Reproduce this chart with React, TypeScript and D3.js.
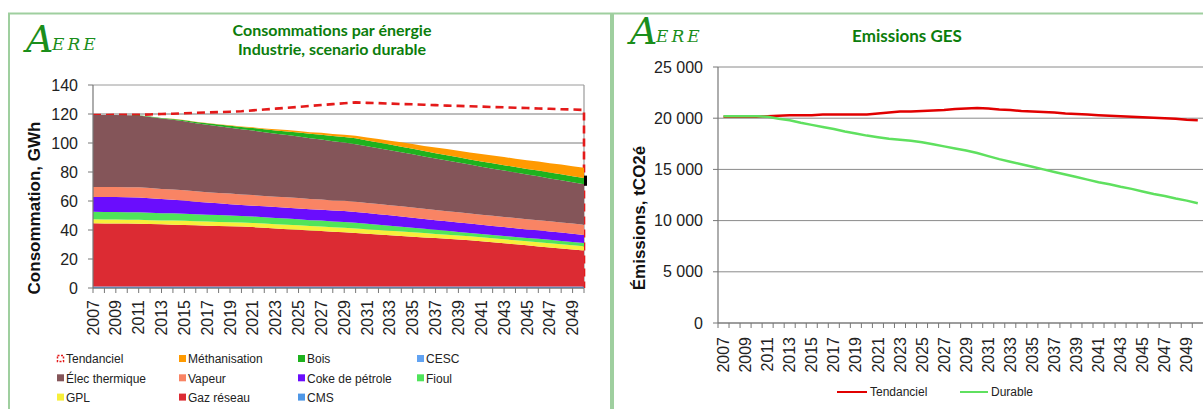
import React from "react";
import * as d3 from "d3";

const years = [2007, 2008, 2009, 2010, 2011, 2012, 2013, 2014, 2015, 2016, 2017, 2018, 2019, 2020, 2021, 2022, 2023, 2024, 2025, 2026, 2027, 2028, 2029, 2030, 2031, 2032, 2033, 2034, 2035, 2036, 2037, 2038, 2039, 2040, 2041, 2042, 2043, 2044, 2045, 2046, 2047, 2048, 2049, 2050];

const cms = [1.0, 1.0, 1.0, 1.0, 1.0, 1.0, 1.0, 1.0, 1.0, 1.0, 1.0, 1.0, 1.0, 1.0, 1.0, 1.0, 1.0, 1.0, 1.0, 1.0, 1.0, 1.0, 1.0, 1.0, 1.0, 1.0, 1.0, 1.0, 1.0, 1.0, 1.0, 1.0, 1.0, 1.0, 1.0, 1.0, 1.0, 1.0, 1.0, 1.0, 1.0, 1.0, 1.0, 1.0];
const gazReseau = [43.6, 43.5, 43.5, 43.4, 43.3, 43.1, 42.9, 42.7, 42.5, 42.2, 42.0, 41.8, 41.6, 41.4, 41.0, 40.5, 40.1, 39.6, 39.2, 38.7, 38.3, 37.8, 37.4, 36.9, 36.4, 35.9, 35.4, 34.9, 34.4, 33.9, 33.4, 32.9, 32.4, 31.9, 31.2, 30.5, 29.8, 29.1, 28.4, 27.7, 27.0, 26.3, 25.6, 24.9];
const gpl = [2.8, 2.8, 2.8, 2.7, 2.7, 2.7, 2.7, 2.8, 2.8, 2.8, 2.8, 2.8, 2.8, 2.8, 2.9, 2.9, 2.9, 3.0, 3.0, 3.0, 3.1, 3.1, 3.2, 3.2, 3.2, 3.1, 3.1, 3.0, 3.0, 3.0, 2.9, 2.9, 2.8, 2.8, 2.8, 2.8, 2.8, 2.8, 2.8, 2.9, 2.9, 2.9, 2.9, 2.9];
const fioul = [5.2, 5.2, 5.2, 5.2, 5.2, 5.1, 5.0, 5.0, 4.9, 4.8, 4.7, 4.7, 4.6, 4.5, 4.4, 4.4, 4.3, 4.3, 4.2, 4.1, 4.1, 4.0, 4.0, 3.9, 3.7, 3.6, 3.4, 3.3, 3.1, 2.9, 2.8, 2.6, 2.5, 2.3, 2.3, 2.3, 2.3, 2.3, 2.3, 2.3, 2.3, 2.3, 2.3, 2.3];
const coke = [10.1, 10.2, 10.2, 10.3, 10.3, 10.0, 9.7, 9.4, 9.1, 8.7, 8.4, 8.1, 7.8, 7.5, 7.5, 7.5, 7.5, 7.5, 7.5, 7.5, 7.5, 7.5, 7.5, 7.5, 7.4, 7.3, 7.2, 7.1, 7.0, 6.8, 6.7, 6.6, 6.5, 6.4, 6.3, 6.2, 6.1, 6.0, 5.9, 5.9, 5.8, 5.7, 5.6, 5.5];
const vapeur = [6.9, 6.9, 6.9, 6.9, 6.9, 7.0, 7.0, 7.1, 7.1, 7.2, 7.2, 7.2, 7.3, 7.3, 7.3, 7.2, 7.2, 7.2, 7.1, 7.1, 7.1, 7.0, 7.0, 7.0, 7.0, 7.0, 7.0, 7.0, 7.0, 7.0, 7.0, 7.0, 7.0, 7.0, 7.0, 7.0, 7.0, 7.0, 7.0, 7.0, 7.0, 7.0, 7.0, 7.0];
const elecThermique = [49.7, 49.7, 49.7, 49.6, 49.6, 49.1, 48.6, 48.1, 47.6, 47.0, 46.5, 46.0, 45.5, 45.0, 44.5, 43.9, 43.4, 42.9, 42.4, 41.8, 41.3, 40.8, 40.2, 39.7, 39.1, 38.5, 37.9, 37.3, 36.7, 36.1, 35.5, 34.9, 34.3, 33.7, 33.1, 32.5, 32.0, 31.4, 30.8, 30.2, 29.6, 29.1, 28.5, 27.9];
const cesc = [0, 0, 0, 0, 0, 0, 0, 0, 0, 0, 0, 0, 0, 0, 0, 0, 0, 0, 0, 0, 0, 0, 0, 0, 0, 0, 0, 0, 0, 0, 0, 0, 0, 0, 0, 0, 0, 0, 0, 0, 0, 0, 0, 0];
const bois = [0, 0, 0, 0, 0.1, 0.2, 0.4, 0.5, 0.7, 0.8, 1.0, 1.1, 1.3, 1.5, 1.8, 2.0, 2.3, 2.5, 2.8, 3.1, 3.3, 3.6, 3.8, 4.1, 4.0, 4.0, 3.9, 3.9, 3.8, 3.7, 3.7, 3.6, 3.6, 3.5, 3.6, 3.7, 3.7, 3.8, 3.9, 4.0, 4.1, 4.1, 4.2, 4.3];
const methanisation = [0, 0, 0, 0, 0, 0, 0, 0.1, 0.1, 0.1, 0.2, 0.2, 0.3, 0.3, 0.4, 0.6, 0.7, 0.9, 1.0, 1.1, 1.3, 1.4, 1.6, 1.7, 2.0, 2.4, 2.7, 3.0, 3.3, 3.6, 3.9, 4.3, 4.6, 4.9, 5.1, 5.3, 5.6, 5.8, 6.0, 6.2, 6.4, 6.7, 6.9, 7.1];
const tendancielConso = [119.3, 119.3, 119.4, 119.4, 119.4, 119.7, 120.0, 120.2, 120.5, 120.8, 121.1, 121.3, 121.6, 121.9, 122.5, 123.1, 123.7, 124.3, 124.9, 125.6, 126.2, 126.8, 127.4, 128.0, 127.7, 127.5, 127.2, 126.9, 126.7, 126.4, 126.1, 125.8, 125.6, 125.3, 125.1, 124.8, 124.6, 124.3, 124.1, 123.8, 123.6, 123.3, 123.1, 122.8];

const emisTendanciel = [20150, 20150, 20150, 20150, 20200, 20250, 20300, 20300, 20300, 20350, 20350, 20350, 20350, 20350, 20450, 20550, 20650, 20650, 20700, 20750, 20800, 20900, 20950, 21000, 20950, 20850, 20800, 20700, 20650, 20600, 20550, 20450, 20400, 20350, 20300, 20250, 20200, 20150, 20100, 20050, 20000, 19950, 19850, 19800];
const emisDurable = [20200, 20200, 20200, 20200, 20150, 19950, 19800, 19550, 19350, 19150, 18950, 18700, 18500, 18300, 18150, 18000, 17900, 17800, 17650, 17450, 17250, 17050, 16850, 16600, 16300, 16000, 15750, 15500, 15250, 15000, 14750, 14500, 14250, 14000, 13750, 13550, 13300, 13100, 12850, 12600, 12400, 12150, 11950, 11700];

const consoTicks = [0, 20, 40, 60, 80, 100, 120, 140];
const emisTicks = [0, 5000, 10000, 15000, 20000, 25000];

const stackSeries = [
  { name: "CMS", values: cms, color: "#4f97e6" },
  { name: "Gaz réseau", values: gazReseau, color: "#dc2b33" },
  { name: "GPL", values: gpl, color: "#f7ef3a" },
  { name: "Fioul", values: fioul, color: "#4fe45a" },
  { name: "Coke de pétrole", values: coke, color: "#6a0dfd" },
  { name: "Vapeur", values: vapeur, color: "#f98464" },
  { name: "Élec thermique", values: elecThermique, color: "#845559" },
  { name: "CESC", values: cesc, color: "#62a3f2" },
  { name: "Bois", values: bois, color: "#1eb21e" },
  { name: "Méthanisation", values: methanisation, color: "#ff9a00" },
];

const legendLeft = [
  ["Tendanciel", "dash"], ["Méthanisation", "#ff9a00"], ["Bois", "#1eb21e"], ["CESC", "#62a3f2"],
  ["Élec thermique", "#845559"], ["Vapeur", "#f98464"], ["Coke de pétrole", "#6a0dfd"], ["Fioul", "#4fe45a"],
  ["GPL", "#f7ef3a"], ["Gaz réseau", "#dc2b33"], ["CMS", "#4f97e6"],
];

const AX = "Liberation Sans, Arial, sans-serif";
const GREEN = "#0c7d0c";

function Logo({ x, y }: { x: number; y: number }) {
  return (
    <g transform={`translate(${x},${y})`} fill="#1b8e1b" fontFamily="DejaVu Serif, serif" fontStyle="italic">
      <text x={0} y={30} fontSize={38}>A</text>
      <text x={26} y={28} fontSize={17} letterSpacing={3}>ERE</text>
    </g>
  );
}

export default function App() {
  // Left chart
  const lx = d3.scalePoint<number>().domain(years).range([93, 584]);
  const ly = d3.scaleLinear().domain([0, 140]).range([288, 85]);
  const table = years.map((yr, i) => {
    const o: any = { year: yr };
    stackSeries.forEach((s) => (o[s.name] = s.values[i]));
    return o;
  });
  const stacked = d3.stack<any>().keys(stackSeries.map((s) => s.name))(table);
  const area = d3
    .area<any>()
    .x((d) => lx(d.data.year)!)
    .y0((d) => ly(d[0]))
    .y1((d) => ly(d[1]));
  const tendLine = d3
    .line<number>()
    .x((_, i) => lx(years[i])!)
    .y((d) => ly(d));
  const tendPath =
    tendLine(tendancielConso)! + `L${lx(years[years.length - 1])},${ly(0)}`;

  // Right chart
  const rx = d3.scaleBand<number>().domain(years).range([718, 1203.3]);
  const ry = d3.scaleLinear().domain([0, 25000]).range([323, 67]);
  const fmt = d3.formatLocale({ decimal: ",", thousands: " ", grouping: [3], currency: ["", "€"] }).format(",d");
  const rline = d3
    .line<number>()
    .x((_, i) => rx(years[i])! + rx.bandwidth() / 2)
    .y((d) => ry(d));

  return (
    <svg width={1203} height={409} style={{ position: "absolute", left: 0, top: 0, background: "#fff" }} fontFamily={AX}>
      {/* panel borders */}
      <rect x={9} y={13.5} width={602} height={420} fill="none" stroke="#9fcf9f" strokeWidth={2} />
      <rect x={613} y={13.5} width={620} height={420} fill="none" stroke="#9fcf9f" strokeWidth={2} />

      {/* ===== LEFT CHART ===== */}
      <Logo x={26} y={22} />
      <g fontFamily="Lato, Open Sans, sans-serif" fontWeight="bold" fill={GREEN} fontSize={16} textAnchor="middle">
        <text x={332} y={36}>Consommations par énergie</text>
        <text x={332} y={55}>Industrie, scenario durable</text>
      </g>

      {consoTicks.map((t) => (
        <line key={t} x1={93} x2={584} y1={ly(t)} y2={ly(t)} stroke={t === 140 ? "#9a9a9a" : "#7a7a7a"} strokeWidth={1} />
      ))}
      <line x1={584} x2={584} y1={ly(140)} y2={ly(0)} stroke="#9a9a9a" strokeWidth={1.2} />

      <path d={tendPath} fill="none" stroke="#e41a1a" strokeWidth={2.6} strokeDasharray="8,5" />

      {stacked.map((s, i) => (
        <path key={s.key} d={area(s as any)!} fill={stackSeries[i].color} />
      ))}
      <rect x={584} y={ly(77.5)} width={3} height={ly(70.5) - ly(77.5)} fill="#000" />

      <line x1={93} x2={93} y1={ly(140)} y2={ly(0)} stroke="#777" strokeWidth={1.2} />
      <line x1={93} x2={584} y1={ly(0)} y2={ly(0)} stroke="#777" strokeWidth={1.2} />
      {consoTicks.map((t) => (
        <g key={t}>
          <line x1={88} x2={93} y1={ly(t)} y2={ly(t)} stroke="#777" />
          <text x={78} y={ly(t)} dy="0.35em" textAnchor="end" fontSize={16} fill="#222">{t}</text>
        </g>
      ))}
      {years.map((yr) => (
        <line key={yr} x1={lx(yr)} x2={lx(yr)} y1={ly(0)} y2={ly(0) + 5} stroke="#777" />
      ))}
      {years.filter((_, i) => i % 2 === 0).map((yr) => (
        <text key={yr} transform={`translate(${lx(yr)},${ly(0) + 12}) rotate(-90)`} dy="0.35em" textAnchor="end" fontSize={16} fill="#222">{yr}</text>
      ))}
      <text transform="translate(40,208) rotate(-90)" textAnchor="middle" fontSize={17} fontWeight="bold" fill="#111">Consommation, GWh</text>

      {legendLeft.map(([name, c], i) => {
        const col = i % 4;
        const row = Math.floor(i / 4);
        const x = [58, 180, 299, 418][col];
        const y = 359 + row * 19.3;
        return (
          <g key={name}>
            {c === "dash" ? (
              <rect x={x - 0.5} y={y - 3.5} width={6} height={6} fill="none" stroke="#e41a1a" strokeWidth={1.5} strokeDasharray="2,1.5" />
            ) : (
              <rect x={x - 1} y={y - 4} width={7} height={7} fill={c} />
            )}
            <text x={x + 8} y={y} dy="0.35em" fontSize={12} fill="#222">{name}</text>
          </g>
        );
      })}

      {/* ===== RIGHT CHART ===== */}
      <Logo x={630} y={14} />
      <text x={907} y={42} textAnchor="middle" fontFamily="Lato, Open Sans, sans-serif" fontWeight="bold" fontSize={17} fill={GREEN}>Emissions GES</text>

      {emisTicks.map((t) => (
        <g key={t}>
          <line x1={718} x2={1203} y1={ry(t)} y2={ry(t)} stroke="#8a8a8a" strokeWidth={1} />
          <line x1={713} x2={718} y1={ry(t)} y2={ry(t)} stroke="#777" />
          <text x={703} y={ry(t)} dy="0.35em" textAnchor="end" fontSize={16} fill="#222">{fmt(t)}</text>
        </g>
      ))}
      <line x1={718} x2={718} y1={ry(25000)} y2={ry(0)} stroke="#777" strokeWidth={1.2} />
      <line x1={718} x2={1203} y1={ry(0)} y2={ry(0)} stroke="#777" strokeWidth={1.2} />
      {years.map((yr) => (
        <line key={yr} x1={rx(yr)} x2={rx(yr)} y1={ry(0)} y2={ry(0) + 5} stroke="#777" />
      ))}
      {years.filter((_, i) => i % 2 === 0).map((yr) => (
        <text key={yr} transform={`translate(${rx(yr)! + rx.bandwidth() / 2},${ry(0) + 14}) rotate(-90)`} dy="0.35em" textAnchor="end" fontSize={16} fill="#222">{yr}</text>
      ))}
      <text transform="translate(645,218) rotate(-90)" textAnchor="middle" fontSize={17} fontWeight="bold" fill="#111">Émissions, tCO2é</text>

      <path d={rline(emisTendanciel)!} fill="none" stroke="#e10000" strokeWidth={2.5} />
      <path d={rline(emisDurable)!} fill="none" stroke="#5fe05f" strokeWidth={2.5} />

      <line x1={837} x2={867} y1={392} y2={392} stroke="#e10000" strokeWidth={2} />
      <text x={870} y={392} dy="0.35em" fontSize={12} fill="#222">Tendanciel</text>
      <line x1={960} x2={988} y1={392} y2={392} stroke="#5fe05f" strokeWidth={2} />
      <text x={991} y={392} dy="0.35em" fontSize={12} fill="#222">Durable</text>
    </svg>
  );
}
